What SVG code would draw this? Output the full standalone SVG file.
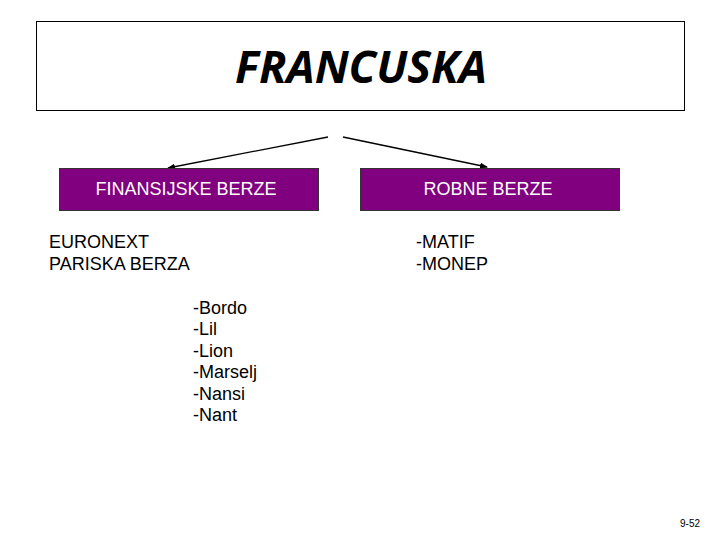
<svg xmlns="http://www.w3.org/2000/svg" width="720" height="540" viewBox="0 0 720 540">
<defs>
<marker id="ah" markerWidth="8" markerHeight="6" refX="7" refY="3" orient="auto" markerUnits="userSpaceOnUse">
<path d="M0,0 L8,3 L0,6 z" fill="#000"/>
</marker>
<style>
.t{font-family:"Liberation Sans",Arial,sans-serif;font-size:18px;fill:#000}
.w{font-family:"Liberation Sans",Arial,sans-serif;font-size:18px;fill:#fff;text-anchor:middle}
.box{fill:#800080;stroke:#333;stroke-width:1}
.c{stroke:#000;stroke-width:1.3;fill:none;marker-end:url(#ah)}
</style>
</defs>
<rect width="720" height="540" fill="#fff"/>
<g id="title">
<rect x="36.5" y="21.5" width="648" height="89" fill="#fff" stroke="#000" stroke-width="1"/>
<text x="361" y="83" text-anchor="middle" font-family="'Open Sans',sans-serif" font-weight="bold" font-style="italic" font-size="45">FRANCUSKA</text>
</g>
<g id="connectors">
<line class="c" x1="328" y1="137" x2="168" y2="168"/>
<line class="c" x1="343" y1="137" x2="487" y2="167"/>
</g>
<g id="fin">
<rect class="box" x="59.5" y="168.5" width="259" height="42"/>
<text class="w" x="186" y="195">FINANSIJSKE BERZE</text>
</g>
<g id="rob">
<rect class="box" x="360.5" y="168.5" width="259" height="42"/>
<text class="w" x="488" y="195">ROBNE BERZE</text>
</g>
<g id="fin-list">
<text class="t" x="49" y="248">EURONEXT</text>
<text class="t" x="49" y="270">PARISKA BERZA</text>
</g>
<g id="rob-list">
<text class="t" x="416" y="248">-MATIF</text>
<text class="t" x="416" y="270">-MONEP</text>
</g>
<g id="cities">
<text class="t" x="193" y="314">-Bordo</text>
<text class="t" x="193" y="335">-Lil</text>
<text class="t" x="193" y="357">-Lion</text>
<text class="t" x="193" y="378">-Marselj</text>
<text class="t" x="193" y="400">-Nansi</text>
<text class="t" x="193" y="421">-Nant</text>
</g>
<text x="680" y="527" font-family="'Liberation Sans',Arial,sans-serif" font-size="10" fill="#000">9-52</text>
</svg>
